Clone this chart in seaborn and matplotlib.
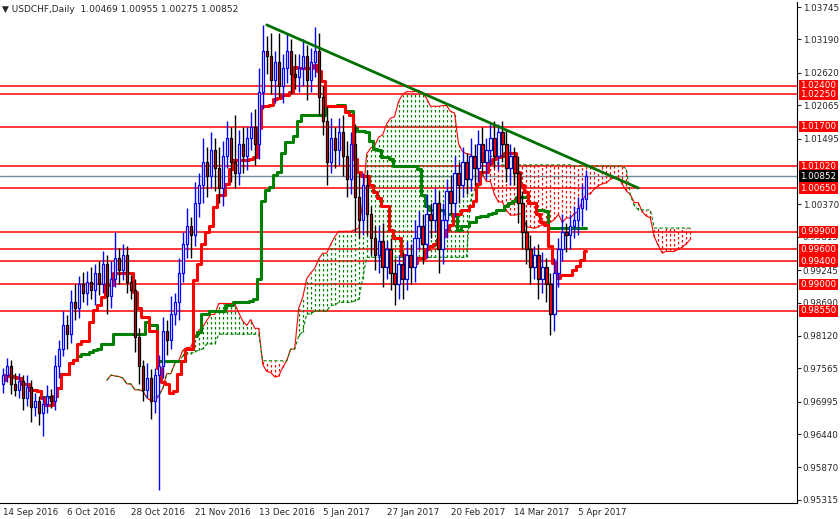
import matplotlib
matplotlib.use("Agg")
import matplotlib.pyplot as plt
import matplotlib.transforms as mtransforms
import seaborn as sns
import numpy as np
import pandas as pd

# daily closes, USDCHF, 14 Sep 2016 .. Apr 2017
closes = [0.9745, 0.9760, 0.9730, 0.9720, 0.9735, 0.9705, 0.9725, 0.9690, 0.9700, 0.9680, 0.9695, 0.9710, 0.9700,
          0.9760, 0.9790, 0.9830, 0.9815, 0.9870, 0.9860, 0.9900, 0.9885,
          0.9905, 0.9890, 0.9920, 0.9900, 0.9935, 0.9880, 0.9910, 0.9945, 0.9925, 0.9950, 0.9905, 0.9890,
          0.9810, 0.9760, 0.9720, 0.9740, 0.9700, 0.9745,
          0.9760,
          0.9820, 0.9805, 0.9850, 0.9870,
          0.9920, 0.9970, 1.0000, 0.9985, 1.0040,
          1.0070, 1.0110, 1.0085, 1.0130, 1.0100, 1.0065, 1.0120, 1.0150, 1.0110, 1.0090, 1.0140, 1.0120,
          1.0150, 1.0170, 1.0140, 1.0230, 1.0300,
          1.0290, 1.0250, 1.0280, 1.0240, 1.0270, 1.0300, 1.0260, 1.0255, 1.0270, 1.0290, 1.0250, 1.0280, 1.0300,
          1.0220, 1.0180, 1.0110, 1.0150, 1.0130, 1.0160,
          1.0120, 1.0080, 1.0140, 1.0050, 1.0010, 1.0070, 1.0020, 0.9980,
          0.9950, 0.9975, 0.9930, 0.9960, 0.9920, 0.9900, 0.9935, 0.9910,
          0.9950, 0.9930, 0.9980, 1.0000, 0.9970, 1.0020, 1.0010, 1.0040, 0.9960, 1.0010,
          1.0060, 1.0040, 1.0090, 1.0070, 1.0110, 1.0080, 1.0120, 1.0100, 1.0140, 1.0110, 1.0130, 1.0150, 1.0120, 1.0160, 1.0140,
          1.0100, 1.0120, 1.0090, 1.0040, 0.9990,
          0.9960, 0.9930, 0.9950, 0.9910, 0.9930, 0.9900, 0.9850,
          0.9920, 0.9960, 0.9990, 0.9985, 1.0000, 1.0010, 1.0030, 1.00469, 1.00852]
first_open = 0.9730

# wick lengths in pips above / below the body
wick_up = [12, 15, 10, 18, 14, 10, 20, 12, 15, 10, 14, 18, 12,
           20, 15, 25, 18, 20, 30, 15, 22,
           18, 25, 15, 20, 22, 15, 30, 45, 18, 20, 15, 12,
           20, 15, 10, 25, 15, 12,
           20,
           25, 20, 30, 15,
           25, 20, 30, 15, 35,
           20, 40, 25, 30, 20, 35, 25, 30, 20, 80, 25, 30,
           20, 25, 30, 40, 44,
           25, 40, 20, 50, 25, 30, 20, 35, 25, 30, 20, 25, 40,
           30, 20, 25, 35, 20, 25,
           30, 25, 20, 35, 40, 20, 25, 15,
           20, 25, 30, 15, 20, 25, 15, 20,
           25, 20, 30, 25, 20, 35, 20, 25, 20, 30,
           20, 25, 30, 20, 25, 15, 30, 20, 25, 30, 20, 25, 30, 15, 20,
           25, 20, 15, 30, 20,
           20, 25, 15, 20, 25, 15, 20,
           25, 20, 30, 15, 20, 25, 20, 25, 10]
wick_dn = [15, 12, 18, 10, 15, 20, 12, 25, 15, 20, 40, 15, 12,
           15, 20, 12, 25, 15, 20, 18, 15,
           20, 15, 25, 18, 15, 30, 20, 15, 25, 18, 20, 15,
           25, 30, 20, 15, 30, 20,
           196,
           20, 25, 15, 20,
           30, 15, 25, 40, 20,
           25, 30, 35, 20, 40, 25, 30, 20, 35, 25, 20, 30,
           25, 20, 35, 25, 30,
           30, 25, 40, 20, 30, 25, 35, 20, 25, 30, 35, 20, 25,
           30, 25, 40, 20, 30, 25,
           35, 30, 25, 60, 30, 25, 35, 30,
           25, 30, 35, 20, 30, 35, 25, 35,
           20, 30, 25, 20, 35, 25, 30, 20, 40, 25,
           30, 20, 25, 30, 20, 25, 20, 30, 25, 20, 30, 25, 20, 25, 30,
           25, 30, 20, 35, 30,
           25, 30, 20, 35, 25, 30, 37,
           30, 25, 20, 30, 25, 20, 25, 30, 19]

levels = [1.02400, 1.02250, 1.01700, 1.01020, 1.00650, 0.99900, 0.99600, 0.99400, 0.99000, 0.98550]
last_price = 1.00852
axis_ticks = [1.03745, 1.03190, 1.02620, 1.02065, 1.01495, 1.00370, 0.99815, 0.99245, 0.98690,
              0.98120, 0.97565, 0.96995, 0.96440, 0.95870, 0.95315]
date_labels = ["14 Sep 2016", "6 Oct 2016", "28 Oct 2016", "21 Nov 2016", "13 Dec 2016",
               "5 Jan 2017", "27 Jan 2017", "20 Feb 2017", "14 Mar 2017", "5 Apr 2017"]
trend_start = (66, 1.0344)
trend_end = (159, 1.0065)

# OHLC frame
df = pd.DataFrame({"close": closes})
df["open"] = [first_open] + closes[:-1]
df["high"] = df[["open", "close"]].max(axis=1) + np.array(wick_up) / 10000
df["low"] = df[["open", "close"]].min(axis=1) - np.array(wick_dn) / 10000
df["bar"] = np.arange(len(df))

# ichimoku
tenkan = (df["high"].rolling(9, min_periods=1).max() + df["low"].rolling(9, min_periods=1).min()) / 2
kijun = (df["high"].rolling(26, min_periods=1).max() + df["low"].rolling(26, min_periods=1).min()) / 2
span_a = ((tenkan + kijun) / 2).values
span_b = ((df["high"].rolling(52, min_periods=1).max() + df["low"].rolling(52, min_periods=1).min()) / 2).values
cloud_x = df["bar"].values + 26

sns.set_style("white")
plt.rcParams["font.family"] = ["DejaVu Sans"]
fig = plt.figure(figsize=(8.4, 5.19), dpi=100)
ax = fig.add_axes([0.0, 0.031, 0.949, 0.965])

# cloud: dotted vertical strokes
up = span_a >= span_b
ax.vlines(cloud_x[up], span_b[up], span_a[up], colors="green", linewidth=0.9, linestyles=(0, (2, 2)))
ax.vlines(cloud_x[~up], span_a[~up], span_b[~up], colors="red", linewidth=0.9, linestyles=(0, (2, 2)))
ax.plot(cloud_x, span_a, color="red", linewidth=0.8)
ax.plot(cloud_x, span_b, color="green", linewidth=0.8, linestyle=(0, (3, 2)))

# levels
for lv in levels:
    ax.axhline(lv, color="red", linewidth=1.1, zorder=1)
ax.axhline(last_price, color="#778899", linewidth=1, zorder=1)

sns.lineplot(x=df["bar"], y=kijun, ax=ax, color="green", linewidth=2.2, drawstyle="steps-mid")
sns.lineplot(x=df["bar"], y=tenkan, ax=ax, color="red", linewidth=2.2, drawstyle="steps-mid")

# candles
bull = df["close"] >= df["open"]
for sel, face, edge in ((bull, "white", "blue"), (~bull, "red", "black")):
    d = df[sel]
    ax.vlines(d["bar"], d["low"], d["high"], colors=edge, linewidth=1, zorder=3)
    ax.bar(d["bar"], (d["close"] - d["open"]).abs(), bottom=d[["open", "close"]].min(axis=1),
           width=0.55, color=face, edgecolor=edge, linewidth=0.9, zorder=4)

ax.plot([trend_start[0], trend_end[0]], [trend_start[1], trend_end[1]], color="#007000", linewidth=2, zorder=5)

ymin, ymax = 0.95264, 1.03830
ax.set_xlim(-0.75, 198.75)
ax.set_ylim(ymin, ymax)

ax.yaxis.tick_right()
ax.set_yticks(axis_ticks)
ax.set_yticklabels([f"{t:.5f}" for t in axis_ticks], fontsize=6.3)
ax.tick_params(axis="y", length=3, pad=1)
ax.set_xticks([16 * i for i in range(len(date_labels))])
ax.set_xticklabels(date_labels, fontsize=6.3, ha="left")
ax.tick_params(axis="x", length=3, pad=1)
for s in ("top", "left"):
    ax.spines[s].set_visible(False)
for s in ("right", "bottom"):
    ax.spines[s].set_color("black")
ax.set_xlabel("")
ax.set_ylabel("")

trans = mtransforms.blended_transform_factory(ax.transAxes, ax.transData)
for lv in levels:
    ax.text(1.004, lv, f"{lv:.5f}", transform=trans, fontsize=6.3, color="white", va="center", ha="left",
            bbox=dict(boxstyle="square,pad=0.15", facecolor="red", edgecolor="none"), zorder=10, clip_on=False)
ax.text(1.004, last_price, f"{last_price:.5f}", transform=trans, fontsize=6.3, color="white", va="center", ha="left",
        bbox=dict(boxstyle="square,pad=0.15", facecolor="black", edgecolor="none"), zorder=10, clip_on=False)

ax.text(0.003, 0.995, "\u25bc USDCHF,Daily  1.00469 1.00955 1.00275 1.00852", transform=ax.transAxes,
        fontsize=6.5, va="top", ha="left")

fig.savefig("out.png", dpi=100)
